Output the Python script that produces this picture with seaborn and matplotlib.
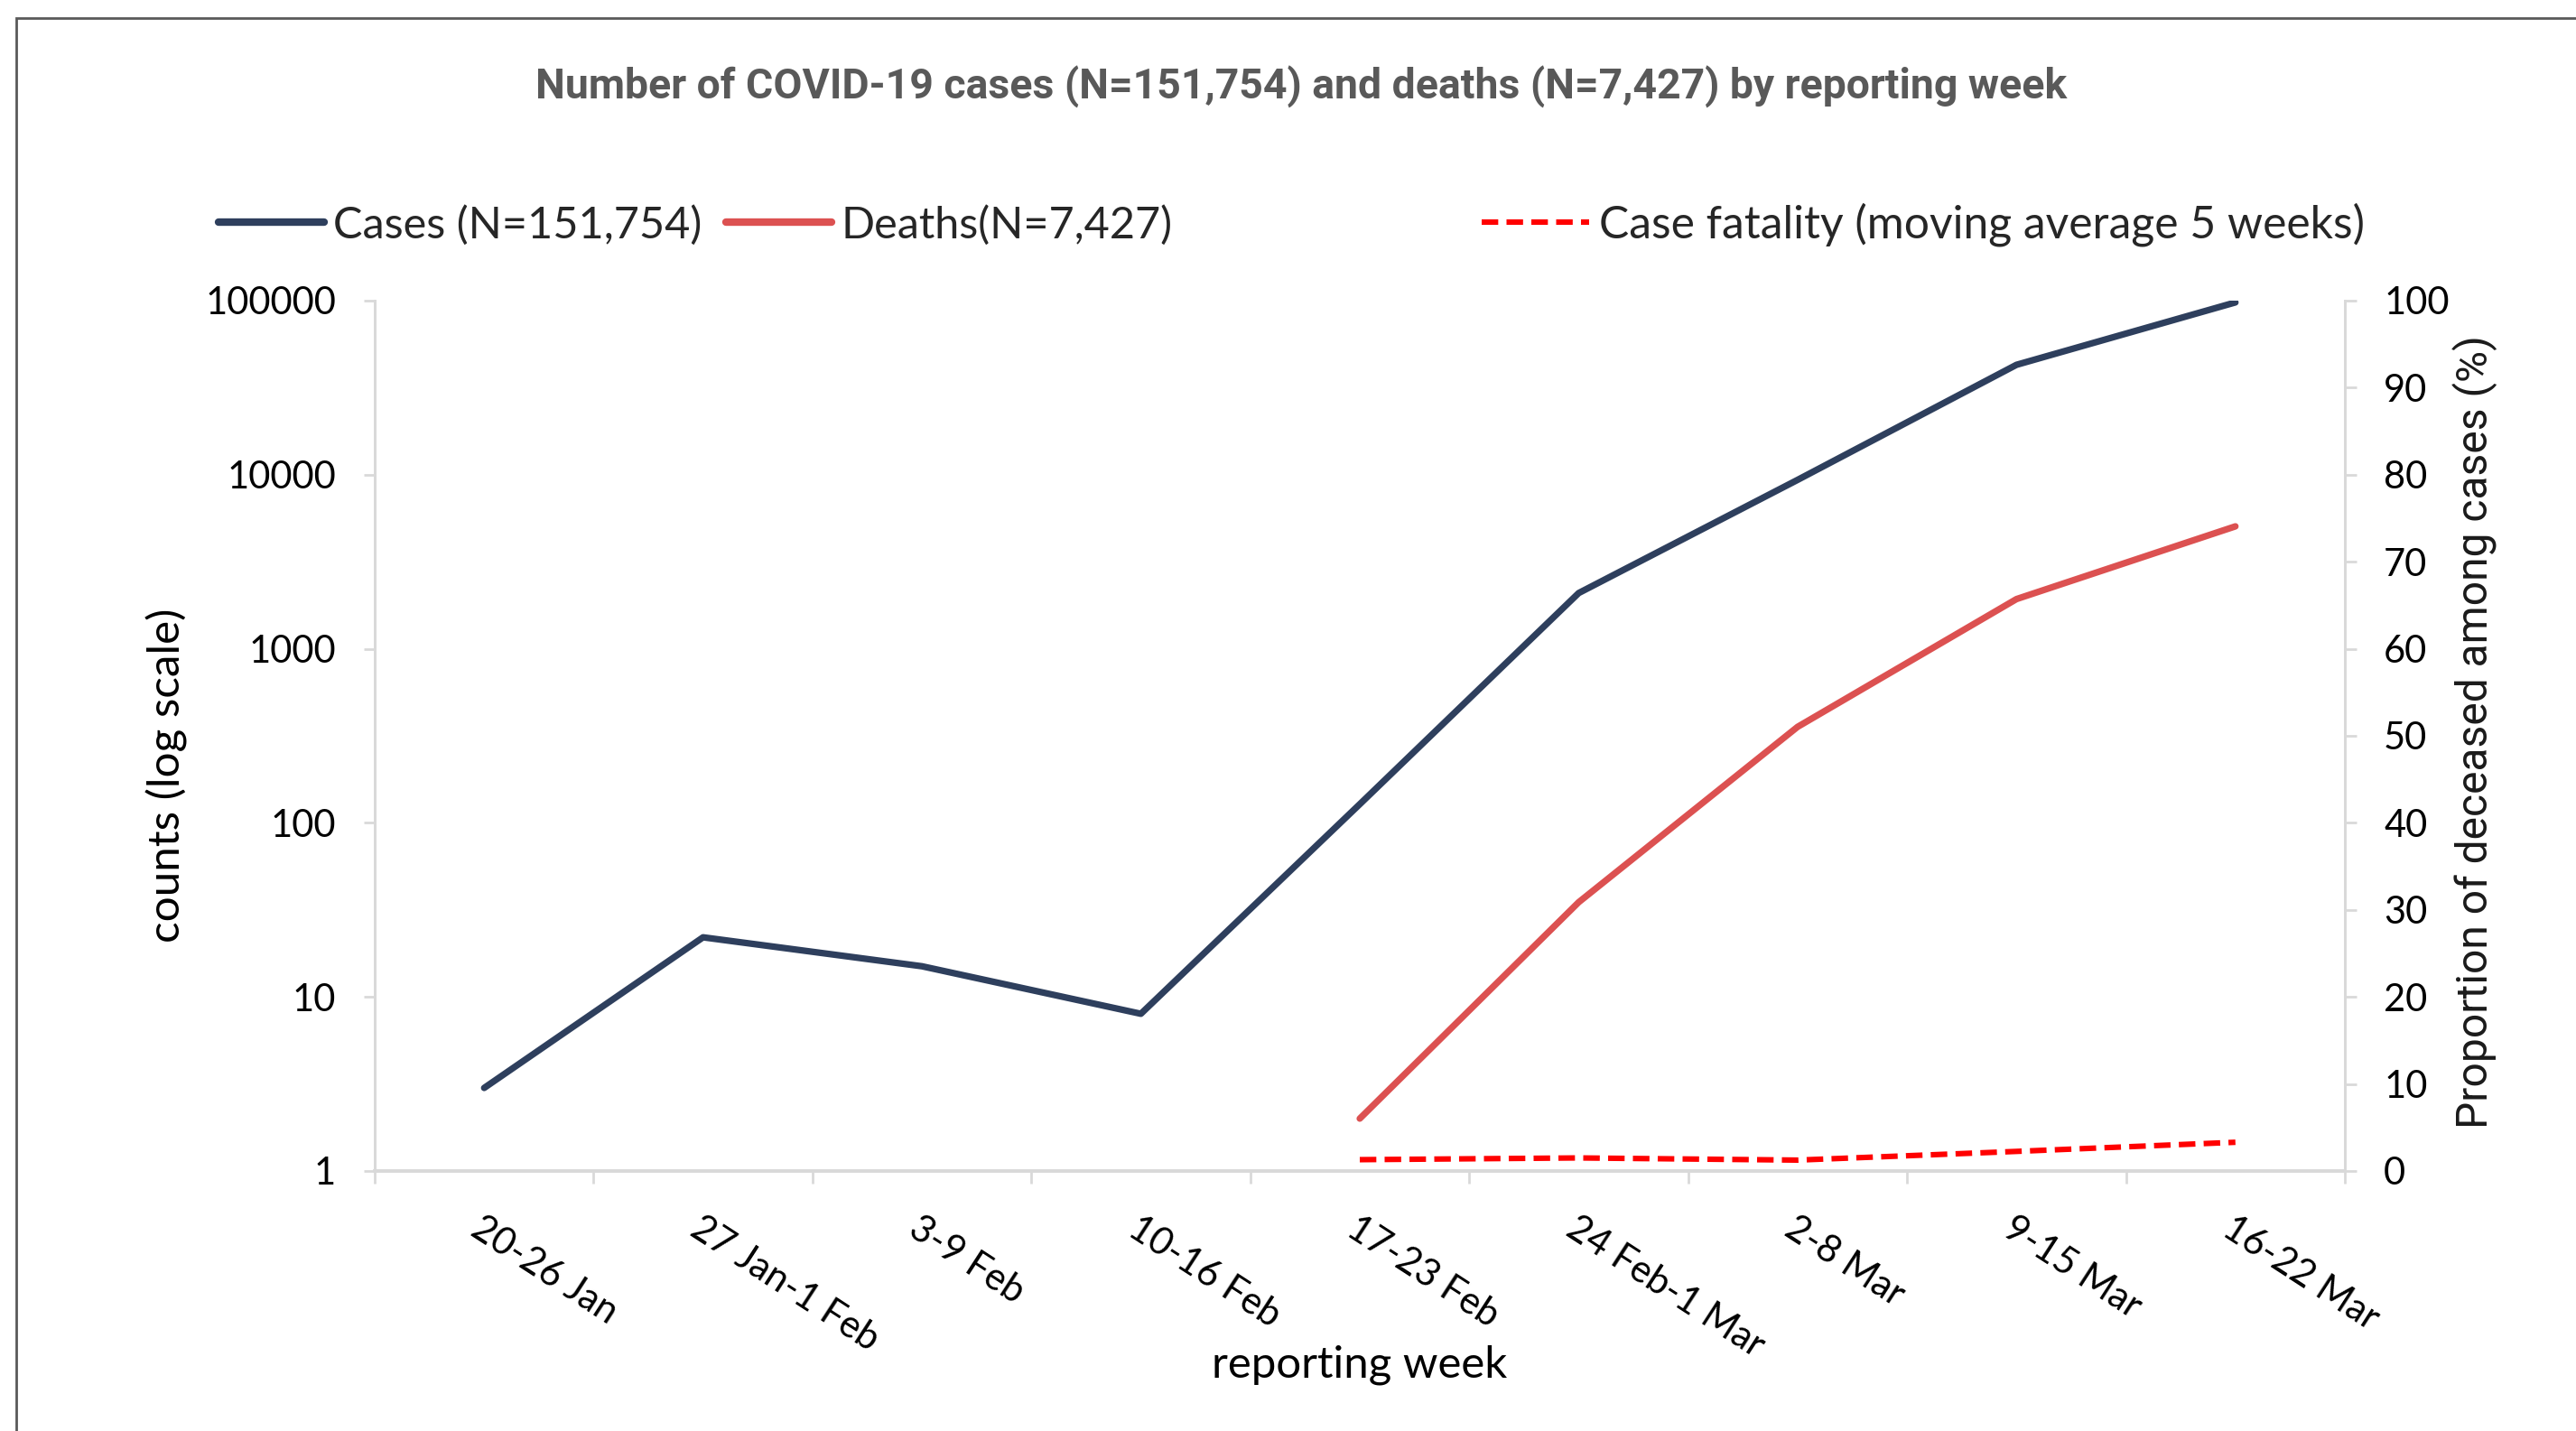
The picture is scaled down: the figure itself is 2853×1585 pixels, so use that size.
"""COVID-19 cases and deaths by reporting week (log scale) with case fatality."""

import matplotlib.pyplot as plt
import numpy as np
import pandas as pd
import seaborn as sns
from matplotlib.lines import Line2D
from matplotlib.patches import Rectangle
from matplotlib.ticker import FixedLocator, NullFormatter

WEEKS = [
    "20-26 Jan", "27 Jan-1 Feb", "3-9 Feb", "10-16 Feb", "17-23 Feb",
    "24 Feb-1 Mar", "2-8 Mar", "9-15 Mar", "16-22 Mar",
]
CASES = [3, 22, 15, 8, 128, 2090, 9340, 42800, 97700]
DEATH_WEEKS = ["17-23 Feb", "24 Feb-1 Mar", "2-8 Mar", "9-15 Mar", "16-22 Mar"]
DEATHS = [2, 35, 356, 1930, 5050]
FATALITY = [1.3, 1.5, 1.25, 2.25, 3.3]  # % moving average 5 weeks

TITLE = "Number of COVID-19 cases (N=151,754) and deaths (N=7,427) by reporting week"
CASES_LABEL = "Cases (N=151,754)"
DEATHS_LABEL = "Deaths(N=7,427)"
CFR_LABEL = "Case fatality (moving average 5 weeks)"

NAVY = "#2e3f5d"
RED = "#dc5151"
BRIGHT_RED = "#ff0000"
AXIS_GREY = "#d9d9d9"

W, H, DPI = 2853, 1585, 200

sns.set_theme(style="white")
plt.rcParams["font.family"] = ["Lato", "DejaVu Sans"]

pos = {w: i for i, w in enumerate(WEEKS)}
cases_df = pd.DataFrame({"x": [pos[w] for w in WEEKS], "n": CASES})
deaths_df = pd.DataFrame({"x": [pos[w] for w in DEATH_WEEKS], "n": DEATHS, "cfr": FATALITY})

fig = plt.figure(figsize=(W / DPI, H / DPI), dpi=DPI)
ax = fig.add_axes([415 / W, 1 - 1297 / H, (2597 - 415) / W, (1297 - 333) / H])
ax2 = ax.twinx()

sns.lineplot(data=cases_df, x="x", y="n", ax=ax, color=NAVY, lw=2.6)
sns.lineplot(data=deaths_df, x="x", y="n", ax=ax, color=RED, lw=2.6)
sns.lineplot(data=deaths_df, x="x", y="cfr", ax=ax2, color=BRIGHT_RED, lw=2.2,
             dashes=False, linestyle=(0, (3, 1.5)))

# left axis: log counts
ax.set_yscale("log")
ax.set_ylim(1, 100000)
ax.yaxis.set_major_locator(FixedLocator([1, 10, 100, 1000, 10000, 100000]))
ax.yaxis.set_minor_locator(FixedLocator([]))
ax.set_yticklabels(["1", "10", "100", "1000", "10000", "100000"])
ax.set_xlim(-0.5, len(WEEKS) - 0.5)

# x axis: labels at centres, tick marks at boundaries
ax.set_xticks(np.arange(len(WEEKS)))
ax.set_xticklabels(WEEKS, rotation=-33, ha="left", va="top", rotation_mode="anchor")
ax.xaxis.set_minor_locator(FixedLocator(np.arange(len(WEEKS) + 1) - 0.5))
ax.xaxis.set_minor_formatter(NullFormatter())
ax.tick_params(axis="x", which="major", length=0, pad=16, labelsize=15, labelcolor="black")
ax.tick_params(axis="x", which="minor", length=5, width=1, color=AXIS_GREY, bottom=True)
ax.tick_params(axis="y", which="major", length=4.5, width=1, color=AXIS_GREY, left=True,
               pad=11, labelsize=15, labelcolor="black")

# right axis: proportion
ax2.set_ylim(0, 100)
ax2.set_yticks(np.arange(0, 101, 10))
ax2.tick_params(axis="y", length=4.5, width=1, color=AXIS_GREY, right=True,
                pad=11, labelsize=15, labelcolor="black")

for a in (ax, ax2):
    a.grid(False)
    a.spines["top"].set_visible(False)
    for side in ("left", "right", "bottom"):
        a.spines[side].set_color(AXIS_GREY)
        a.spines[side].set_linewidth(1)
ax.spines["bottom"].set_linewidth(1.4)

ax.set_xlabel("reporting week", fontsize=17.7, color="black")
ax.xaxis.set_label_coords(0.5, -0.2)
ax.set_ylabel("counts (log scale)", fontsize=17.8, color="black")
ax.yaxis.set_label_coords(-0.095, 0.455)
ax2.set_ylabel("Proportion of deceased among cases (%)", fontsize=17.3, color="#1a1a1a",
               family=["Roboto", "DejaVu Sans"])
ax2.yaxis.set_label_coords(1.0545, 0.505)

fig.text(1441 / W, 1 - 96 / H, TITLE, ha="center", va="center", fontsize=16.7,
         fontweight="bold", color="#595959", family=["Roboto", "DejaVu Sans"])

h_cases = Line2D([], [], color=NAVY, lw=3)
h_deaths = Line2D([], [], color=RED, lw=3)
h_cfr = Line2D([], [], color=BRIGHT_RED, lw=2.2, linestyle=(0, (3, 1.5)))
leg_kw = dict(frameon=False, fontsize=17.5, borderpad=0, borderaxespad=0,
              handlelength=2.4, handletextpad=0.22, loc="center left")
fig.legend([h_cases, h_deaths], [CASES_LABEL, DEATHS_LABEL], ncol=2, columnspacing=0.55,
           bbox_to_anchor=(242 / W, 1 - 249 / H), **leg_kw)
fig.legend([h_cfr], [CFR_LABEL], bbox_to_anchor=(1641 / W, 1 - 249 / H),
           **{**leg_kw, "fontsize": 17.9})

# outer frame (cropped at right and bottom)
fig.add_artist(Rectangle((18 / W, -0.1), 1.2, 1.1 - 20 / H, transform=fig.transFigure,
                         fill=False, edgecolor="#595959", lw=1))

fig.savefig("out.png", dpi=DPI)
plt.close(fig)
